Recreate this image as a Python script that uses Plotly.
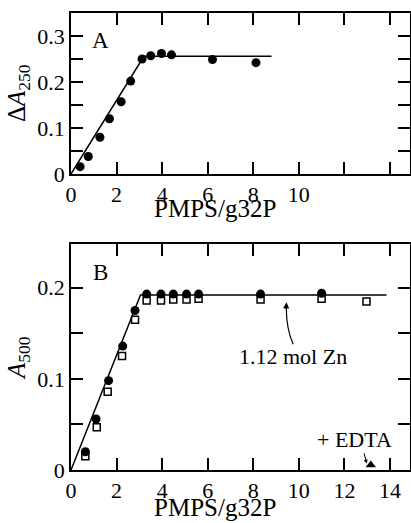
import plotly.graph_objects as go

# Panel A data
a_x = [0.40, 0.76, 1.27, 1.69, 2.20, 2.62, 3.12, 3.50, 3.97, 4.41, 6.21, 8.12]
a_y = [0.016, 0.038, 0.080, 0.120, 0.157, 0.202, 0.250, 0.257, 0.262, 0.259, 0.249, 0.242]
a_fit_x = [0.0, 3.2, 8.8]
a_fit_y = [0.0, 0.256, 0.256]

# Panel B data
b_x = [0.63, 1.10, 1.65, 2.27, 2.81, 3.32, 3.95, 4.49, 5.07, 5.60, 8.32, 11.0]
b_circ_y = [0.020, 0.056, 0.098, 0.136, 0.175, 0.193, 0.193, 0.193, 0.193, 0.193, 0.193, 0.194]
b_sq_x = [0.63, 1.13, 1.61, 2.24, 2.81, 3.32, 3.95, 4.49, 5.07, 5.60, 8.32, 11.0, 12.97]
b_sq_y = [0.015, 0.047, 0.086, 0.125, 0.165, 0.186, 0.186, 0.187, 0.187, 0.188, 0.187, 0.188, 0.185]
edta_x = [13.16]
edta_y = [0.0055]
b_fit_x = [0.0, 3.05, 13.85]
b_fit_y = [0.0, 0.192, 0.192]

x_ticks = [0, 2, 4, 6, 8, 10, 12, 14]
a_xlabels = ["0", "2", "4", "6", "8", "10", "", ""]
b_xlabels = ["0", "2", "4", "6", "8", "10", "12", "14"]
a_yticks = [0, 0.05, 0.1, 0.15, 0.2, 0.25, 0.3]
a_ylabels = ["0", "", "0.1", "", "0.2", "", "0.3"]
b_yticks = [0, 0.05, 0.1, 0.15, 0.2]
b_ylabels = ["0", "", "0.1", "", "0.2"]

FONT = "Liberation Serif"
W, H = 411, 523
L, R, T, B = 71, 1, 13, 53   # plot region in pixels
PW, PH = W - L - R, H - T - B

fig = go.Figure()
line = dict(color="black", width=1.5)
fig.add_trace(go.Scatter(x=a_fit_x, y=a_fit_y, mode="lines", line=line, xaxis="x", yaxis="y"))
fig.add_trace(go.Scatter(x=a_x, y=a_y, mode="markers", marker=dict(symbol="circle", size=9, color="black"),
                         xaxis="x", yaxis="y"))
fig.add_trace(go.Scatter(x=b_fit_x, y=b_fit_y, mode="lines", line=line, xaxis="x2", yaxis="y2"))
fig.add_trace(go.Scatter(x=b_sq_x, y=b_sq_y, mode="markers",
                         marker=dict(symbol="square-open", size=7, color="black", line=dict(width=1.5)),
                         xaxis="x2", yaxis="y2"))
fig.add_trace(go.Scatter(x=b_x, y=b_circ_y, mode="markers", marker=dict(symbol="circle", size=9, color="black"),
                         xaxis="x2", yaxis="y2"))
fig.add_trace(go.Scatter(x=edta_x, y=edta_y, mode="markers",
                         marker=dict(symbol="triangle-up", size=9, color="black"),
                         xaxis="x2", yaxis="y2"))

ax_common = dict(showline=True, linecolor="black", linewidth=1.5, mirror="ticks", ticks="inside",
                 ticklen=12, tickwidth=1.5, tickcolor="black", showgrid=False, zeroline=False,
                 automargin=False, tickfont=dict(family=FONT, size=22, color="black"))

# pixel rows: panel A 13..174, panel B 244..470 (y from top)
ya_dom = [(470 - 174) / PH, (470 - 13) / PH]
yb_dom = [0.0, (470 - 244) / PH]

fig.update_layout(
    width=W, height=H, margin=dict(l=L, r=R, t=T, b=B, autoexpand=False),
    paper_bgcolor="white", plot_bgcolor="white", showlegend=False,
    xaxis=dict(domain=[0, 1], range=[0, 14.88], tickvals=x_ticks, ticktext=a_xlabels, anchor="y", **ax_common),
    yaxis=dict(domain=ya_dom, range=[0, 0.35], tickvals=a_yticks, ticktext=a_ylabels,
               anchor="x", **ax_common),
    xaxis2=dict(domain=[0, 1], range=[0, 14.88], tickvals=x_ticks, ticktext=b_xlabels, anchor="y2", **ax_common),
    yaxis2=dict(domain=yb_dom, range=[0, 0.248], tickvals=b_yticks, ticktext=b_ylabels,
                anchor="x2", **ax_common),
)


def px(xp):
    return (xp - L) / PW


def py(yp):
    return (H - B - yp) / PH


tfont = dict(family=FONT, size=25, color="black")
ann = []
# axis titles
ann.append(dict(text="PMPS/g32P", xref="paper", yref="paper", x=px(215), y=py(209),
                showarrow=False, font=tfont, xanchor="center", yanchor="middle"))
ann.append(dict(text="PMPS/g32P", xref="paper", yref="paper", x=px(215), y=py(507),
                showarrow=False, font=tfont, xanchor="center", yanchor="middle"))
ann.append(dict(text="Δ<i>A</i><sub>250</sub>", xref="paper", yref="paper", x=px(18), y=py(93),
                showarrow=False, font=tfont, textangle=-90, xanchor="center", yanchor="middle"))
ann.append(dict(text="<i>A</i><sub>500</sub>", xref="paper", yref="paper", x=px(18), y=py(358),
                showarrow=False, font=tfont, textangle=-90, xanchor="center", yanchor="middle"))
# panel labels
ann.append(dict(text="A", xref="x", yref="y", x=1.28, y=0.29, showarrow=False,
                font=dict(family=FONT, size=23, color="black")))
ann.append(dict(text="B", xref="x2", yref="y2", x=1.28, y=0.217, showarrow=False,
                font=dict(family=FONT, size=23, color="black")))
# notes
ann.append(dict(text="1.12 mol Zn", xref="x2", yref="y2", x=9.75, y=0.125, showarrow=False,
                font=dict(family=FONT, size=22, color="black")))
ann.append(dict(text="", xref="x2", yref="y2", x=9.46, y=0.184, axref="x2", ayref="y2", ax=9.44, ay=0.175,
                showarrow=True, arrowhead=2, arrowsize=1, arrowwidth=1.2, arrowcolor="black"))
ann.append(dict(text="+ EDTA", xref="x2", yref="y2", x=12.45, y=0.034, showarrow=False,
                font=dict(family=FONT, size=22, color="black")))
ann.append(dict(text="", xref="x2", yref="y2", x=12.98, y=0.007, axref="x2", ayref="y2", ax=12.85, ay=0.02,
                showarrow=True, arrowhead=2, arrowsize=0.8, arrowwidth=1, arrowcolor="black"))
fig.update_layout(annotations=ann)

fig.add_shape(type="path", xref="x2", yref="y2",
              path="M 9.75,0.138 Q 9.45,0.155 9.45,0.178",
              line=dict(color="black", width=1.2))

fig.write_html("out.html", config={"displayModeBar": False},
               post_script="document.body.style.margin='0';document.body.style.padding='0';")
